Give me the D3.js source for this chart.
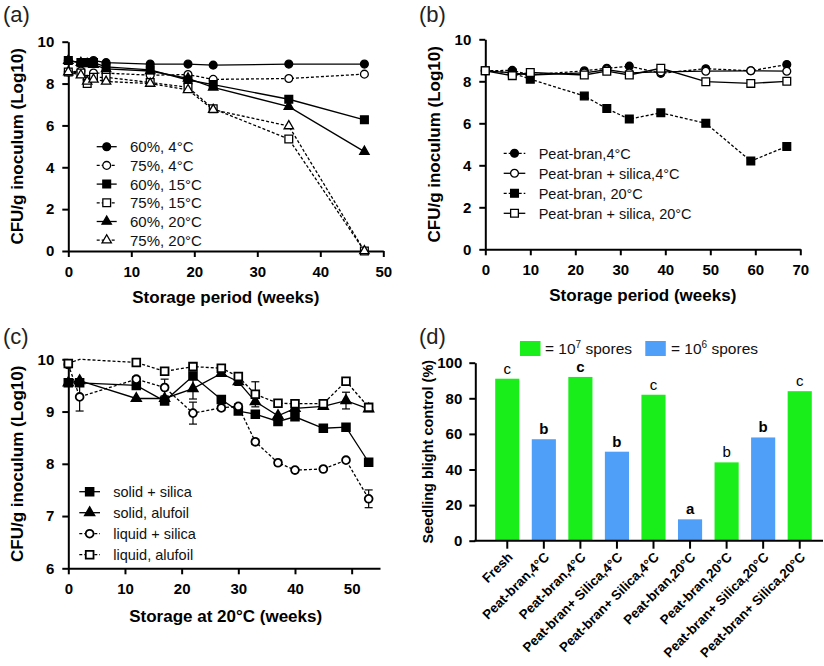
<html>
<head>
<script src="https://d3js.org/d3.v7.min.js"></script>
<style>
  body { margin: 0; background: #fff; }
  text { font-family: "Liberation Sans", Arial, sans-serif; }
</style>
</head>
<body>
<script>
// ---- data ----
// (a) storage at two moisture levels and three temperatures
const aWeeks = [0, 2, 3, 4, 6, 13, 19, 23, 35, 47];
const a60_4 = [9.1, 9.0, 9.0, 9.1, 9.0, 8.93, 8.93, 8.88, 8.93, 8.93];
const a75_4 = [8.55, 8.6, 8.2, 8.5, 8.5, 8.4, 8.43, 8.2, 8.24, 8.45];
const a60_15 = [9.1, 9.0, 9.0, 9.0, 8.8, 8.65, 8.17, 7.95, 7.25, 6.27];
const a75_15 = [8.55, 8.5, 8.0, 8.3, 8.3, 8.05, 7.82, 6.8, 5.35, 0];
const a60_20 = [9.1, 9.0, 8.95, 8.9, 8.7, 8.6, 8.25, 7.82, 6.9, 4.75];
const a75_20 = [8.55, 8.4, 8.1, 8.2, 8.1, 8.0, 7.7, 6.75, 5.97, 0];

// (b) peat-bran with / without silica
const bWeeks = [0, 6, 10, 22, 27, 32, 39, 49, 59, 67];
const bPb4 = [8.5, 8.52, 8.3, 8.5, 8.62, 8.72, 8.38, 8.6, 8.5, 8.8];
const bPbs4 = [8.5, 8.4, 8.3, 8.4, 8.55, 8.4, 8.45, 8.48, 8.5, 8.48];
const bPb20 = [8.5, 8.4, 8.1, 7.3, 6.7, 6.2, 6.5, 6.0, 4.2, 4.9];
const bPbs20 = [8.5, 8.27, 8.42, 8.3, 8.48, 8.3, 8.62, 7.98, 7.9, 8.0];

// (c) storage at 20 C
const cWeeks = [0, 2, 12, 17, 22, 27, 30, 33, 37, 40, 45, 49, 53];
const cSolidSilica = [9.55, 9.55, 9.5, 9.2, 9.68, 9.23, 9.01, 8.95, 8.81, 8.9, 8.68, 8.7, 8.03];
const cSolidFoil = [9.55, 9.59, 9.25, 9.25, 9.44, 9.73, 9.57, 9.19, 8.92, 9.06, 9.1, 9.21, 9.05];
const cLiquidSilica = [9.9, 9.28, 9.62, 9.46, 8.97, 9.07, 9.1, 8.42, 8.02, 7.88, 7.9, 8.07, 7.33];
const cLiquidFoil = [9.92, 10.0, 9.94, 9.77, 9.86, 9.83, 9.67, 9.33, 9.16, 9.15, 9.15, 9.58, 9.08];
const cSolidSilicaErr = [0, 0, 0, 0, 0, 0.07, 0, 0, 0, 0, 0, 0, 0];
const cSolidFoilErr = [0, 0, 0, 0, 0.2, 0, 0.07, 0, 0, 0, 0, 0.16, 0];
const cLiquidSilicaErr = [0, 0.27, 0.05, 0.16, 0.21, 0.05, 0.05, 0.05, 0.05, 0.03, 0.03, 0.03, 0.17];
const cLiquidFoilErr = [0, 0, 0, 0, 0, 0, 0, 0.24, 0, 0, 0, 0, 0];
const cLiquidFoilNoMark = [1]; // line passes there but no symbol is drawn

// (d) seedling blight control
const dLabels = ["Fresh", "Peat-bran,4°C", "Peat-bran,4°C", "Peat-bran+ Silica,4°C",
  "Peat-bran+ Silica,4°C", "Peat-bran,20°C", "Peat-bran,20°C",
  "Peat-bran+ Silica,20°C", "Peat-bran+ Silica,20°C"];
const dValues = [91, 57, 92, 50, 82, 12, 44, 58, 84];
const dDose = ["7", "6", "7", "6", "7", "6", "7", "6", "7"];
const dLetters = ["c", "b", "c", "b", "c", "a", "b", "b", "c"];
const dLetterBold = [false, true, true, true, false, true, false, true, false];

const green = "#1aee1a";
const blue = "#4f9ef8";

const svg = d3.select("body").append("svg").attr("width", 824).attr("height", 666);

function styleAxis(g, size) {
  g.selectAll("path, line").attr("stroke", "#000").attr("stroke-width", 2);
  g.selectAll("text").attr("font-size", size || 15).attr("font-weight", "bold")
    .attr("fill", "#000").attr("font-family", "Liberation Sans");
}

function drawSymbol(g, type, open, cx, cy, sw) {
  let sym;
  if (type === "circle") sym = d3.symbol(d3.symbolCircle, 48);
  else if (type === "square") sym = d3.symbol(d3.symbolSquare, 60);
  else sym = d3.symbol(d3.symbolTriangle, 38);
  g.append("path").attr("d", sym())
    .attr("transform", `translate(${cx},${cy})`)
    .attr("fill", open ? "#fff" : "#000")
    .attr("stroke", "#000").attr("stroke-width", sw || 1.3);
}

function linePanel(o) {
  const g = svg.append("g");
  const x = d3.scaleLinear().domain(o.xDomain).range(o.xRange);
  const y = d3.scaleLinear().domain(o.yDomain).range(o.yRange);

  const xa = g.append("g").attr("transform", `translate(0,${o.yRange[0]})`)
    .call(d3.axisBottom(x).tickValues(o.xTicks).tickFormat(d3.format("d"))
      .tickSize(6).tickPadding(9).tickSizeOuter(0));
  styleAxis(xa);
  const ya = g.append("g").attr("transform", `translate(${o.xRange[0]},0)`)
    .call(d3.axisLeft(y).tickValues(o.yTicks).tickFormat(d3.format("d"))
      .tickSize(6).tickPadding(8).tickSizeOuter(0));
  styleAxis(ya);

  const line = d3.line().x(d => x(d[0])).y(d => y(d[1]));
  o.series.forEach(s => {
    const pts = o.xs.map((w, i) => [w, s.vals[i]]);
    g.append("path").attr("d", line(pts)).attr("fill", "none")
      .attr("stroke", "#000").attr("stroke-width", 1.3)
      .attr("stroke-dasharray", s.dash ? "3,2" : null);
  });
  // error bars
  o.series.forEach(s => {
    if (!s.err) return;
    o.xs.forEach((w, i) => {
      const e = s.err[i];
      if (!e) return;
      const cx = x(w), y1 = y(s.vals[i] + e), y2 = y(s.vals[i] - e);
      g.append("line").attr("x1", cx).attr("x2", cx).attr("y1", y1).attr("y2", y2)
        .attr("stroke", "#000").attr("stroke-width", 1.2);
      [y1, y2].forEach(yy => g.append("line").attr("x1", cx - 4).attr("x2", cx + 4)
        .attr("y1", yy).attr("y2", yy).attr("stroke", "#000").attr("stroke-width", 1.2));
    });
  });
  o.series.forEach(s => {
    o.xs.forEach((w, i) => {
      if (s.noMark && s.noMark.includes(i)) return;
      drawSymbol(g, s.sym, s.open, x(w), y(s.vals[i]), o.openStroke);
    });
  });

  // legend
  o.series.forEach((s, i) => {
    const ly = o.legend.y + i * o.legend.dy;
    g.append("line").attr("x1", o.legend.x).attr("x2", o.legend.x + o.legend.len)
      .attr("y1", ly).attr("y2", ly).attr("stroke", "#000").attr("stroke-width", 1.3)
      .attr("stroke-dasharray", s.dash ? "3,2" : null);
    drawSymbol(g, s.sym, s.open, o.legend.x + o.legend.len / 2, ly, o.openStroke);
    g.append("text").attr("x", o.legend.tx).attr("y", ly).attr("dy", "0.36em")
      .attr("font-size", o.legend.fs).attr("fill", "#111").text(s.name);
  });

  // titles
  const xm = (o.xRange[0] + x(o.xTicks[o.xTicks.length - 1])) / 2;
  g.append("text").attr("x", o.xTitleX || xm).attr("y", o.xTitleY).attr("text-anchor", "middle")
    .attr("font-size", 17).attr("font-weight", "bold").text(o.xTitle);
  const ym = (o.yRange[0] + o.yRange[1]) / 2;
  g.append("text").attr("transform", `translate(${o.yTitleX},${ym}) rotate(-90)`)
    .attr("text-anchor", "middle").attr("font-size", 17).attr("font-weight", "bold")
    .text("CFU/g inoculum (Log10)");
  g.append("text").attr("x", o.tag[0]).attr("y", o.tag[1]).attr("font-size", 22)
    .attr("font-family", "Lato").attr("font-weight", 300).attr("fill", "#222").text(o.tag[2]);
}

// ---- (a) ----
linePanel({
  xDomain: [0, 50], xRange: [68.3, 383.3], yDomain: [0, 10], yRange: [251, 41.7],
  xTicks: [0, 10, 20, 30, 40, 50], yTicks: [0, 2, 4, 6, 8, 10], xs: aWeeks,
  series: [
    { name: "60%, 4°C", vals: a60_4, sym: "circle", open: false, dash: false },
    { name: "75%, 4°C", vals: a75_4, sym: "circle", open: true, dash: true },
    { name: "60%, 15°C", vals: a60_15, sym: "square", open: false, dash: false },
    { name: "75%, 15°C", vals: a75_15, sym: "square", open: true, dash: true },
    { name: "60%, 20°C", vals: a60_20, sym: "triangle", open: false, dash: false },
    { name: "75%, 20°C", vals: a75_20, sym: "triangle", open: true, dash: true }
  ],
  legend: { x: 96.7, len: 20, tx: 130, y: 146.7, dy: 18.7, fs: 15 },
  xTitle: "Storage period (weeks)", xTitleY: 303, yTitleX: 23, tag: [3, 22, "(a)"]
});

// ---- (b) ----
linePanel({
  xDomain: [0, 70], xRange: [485.3, 800.3], yDomain: [0, 10], yRange: [249.3, 39.3],
  xTicks: [0, 10, 20, 30, 40, 50, 60, 70], yTicks: [0, 2, 4, 6, 8, 10], xs: bWeeks,
  series: [
    { name: "Peat-bran,4°C", vals: bPb4, sym: "circle", open: false, dash: true },
    { name: "Peat-bran + silica,4°C", vals: bPbs4, sym: "circle", open: true, dash: false },
    { name: "Peat-bran, 20°C", vals: bPb20, sym: "square", open: false, dash: true },
    { name: "Peat-bran + silica, 20°C", vals: bPbs20, sym: "square", open: true, dash: false }
  ],
  legend: { x: 503.7, len: 21.6, tx: 538.7, y: 153.3, dy: 20, fs: 14.5 },
  xTitle: "Storage period (weeks)", xTitleY: 301, yTitleX: 440, tag: [419, 22, "(b)"]
});

// ---- (c) ----
linePanel({
  xDomain: [0, 55], xRange: [68.3, 380], yDomain: [6, 10], yRange: [568.3, 359.3],
  xTicks: [0, 10, 20, 30, 40, 50], yTicks: [6, 7, 8, 9, 10], xs: cWeeks, openStroke: 1.8,
  series: [
    { name: "solid + silica", vals: cSolidSilica, err: cSolidSilicaErr, sym: "square", open: false, dash: false },
    { name: "solid, alufoil", vals: cSolidFoil, err: cSolidFoilErr, sym: "triangle", open: false, dash: false },
    { name: "liquid + silica", vals: cLiquidSilica, err: cLiquidSilicaErr, sym: "circle", open: true, dash: true },
    { name: "liquid, alufoil", vals: cLiquidFoil, err: cLiquidFoilErr, sym: "square", open: true, dash: true, noMark: cLiquidFoilNoMark }
  ],
  legend: { x: 79.3, len: 20.7, tx: 113.3, y: 491.7, dy: 21, fs: 14.5 },
  xTitle: "Storage at 20°C (weeks)", xTitleX: 225.7, xTitleY: 622, yTitleX: 23, tag: [3, 344, "(c)"]
});

// ---- (d) ----
(function () {
  const g = svg.append("g");
  const x = d3.scaleBand().domain(d3.range(dValues.length)).range([489, 818])
    .paddingInner(0.34).paddingOuter(0.17);
  const y = d3.scaleLinear().domain([0, 100]).range([540.7, 362.7]);

  g.selectAll("rect.bar").data(dValues).join("rect").attr("class", "bar")
    .attr("x", (d, i) => x(i)).attr("width", x.bandwidth())
    .attr("y", d => y(d)).attr("height", d => y(0) - y(d))
    .attr("fill", (d, i) => dDose[i] === "7" ? green : blue);

  g.selectAll("text.sig").data(dValues).join("text").attr("class", "sig")
    .attr("x", (d, i) => x(i) + x.bandwidth() / 2).attr("y", d => y(d) - 5)
    .attr("text-anchor", "middle").attr("font-size", 15)
    .attr("font-weight", (d, i) => dLetterBold[i] ? "bold" : "normal")
    .text((d, i) => dLetters[i]);

  const ya = g.append("g").attr("transform", "translate(475.3,0)")
    .call(d3.axisLeft(y).tickValues([0, 20, 40, 60, 80, 100]).tickSize(6).tickPadding(7).tickSizeOuter(0));
  styleAxis(ya, 15);

  // x axis line with ticks under bars
  g.append("line").attr("x1", 474.3).attr("x2", 823).attr("y1", y(0)).attr("y2", y(0))
    .attr("stroke", "#000").attr("stroke-width", 2);
  dValues.forEach((d, i) => {
    const cx = x(i) + x.bandwidth() / 2;
    g.append("line").attr("x1", cx).attr("x2", cx).attr("y1", y(0)).attr("y2", y(0) + 8)
      .attr("stroke", "#000").attr("stroke-width", 2);
    g.append("text").attr("transform", `translate(${cx + 3},${y(0) + 14}) rotate(-45)`)
      .attr("text-anchor", "end").attr("dy", "0.35em").attr("font-size", 13.4)
      .attr("font-weight", "bold").text(dLabels[i]);
  });

  g.append("text").attr("transform", `translate(433,${(y(0) + y(100)) / 2}) rotate(-90)`)
    .attr("text-anchor", "middle").attr("font-size", 14.5).attr("font-weight", "bold")
    .text("Seedling blight control (%)");

  // legend
  [["7", green, 520, 545], ["6", blue, 645.3, 671]].forEach(([p, c, rx, tx]) => {
    g.append("rect").attr("x", rx).attr("y", 341).attr("width", 20.5).attr("height", 15).attr("fill", c);
    const t = g.append("text").attr("x", tx).attr("y", 353.5).attr("font-size", 15.5).attr("fill", "#111");
    t.append("tspan").text("= 10");
    t.append("tspan").attr("dy", -6).attr("font-size", 10).text(p);
    t.append("tspan").attr("dy", 6).text(" spores");
  });

  g.append("text").attr("x", 419).attr("y", 344).attr("font-size", 22)
    .attr("font-family", "Lato").attr("font-weight", 300).attr("fill", "#222").text("(d)");
})();
</script>
</body>
</html>
